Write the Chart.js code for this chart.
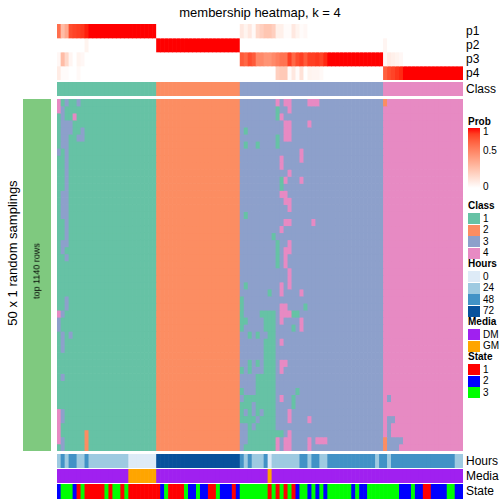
<!DOCTYPE html>
<html>
<head>
<meta charset="utf-8">
<script src="https://cdn.jsdelivr.net/npm/chart.js@4.4.1/dist/chart.umd.min.js"></script>
<style>
  body { margin: 0; background: #fff; font-family: "Liberation Sans", Arial, sans-serif; color: #000; }
  #page { position: relative; width: 504px; height: 504px; overflow: hidden; }
  canvas { position: absolute; }
  .lab { position: absolute; line-height: 1; white-space: nowrap; transform: translateY(-50%); }
  .ann { font-size: 12px; left: 466px; }
  .lgTitle { font-size: 10px; font-weight: bold; left: 468px; }
  .lgLab { font-size: 10px; left: 483px; }
  .swatch { position: absolute; left: 468px; width: 12px; height: 11px; }
  .rot { position: absolute; white-space: nowrap; line-height: 1; transform: translate(-50%, -50%) rotate(-90deg); }
</style>
</head>
<body>
<div id="page">
  <div class="lab" style="left:260px;top:12px;font-size:13px;transform:translate(-50%,-50%)">membership heatmap, k = 4</div>

  <canvas id="probMap" width="406" height="56" style="left:57px;top:24px"></canvas>
  <canvas id="classMap" width="406" height="14" style="left:57px;top:82px"></canvas>
  <canvas id="sideBar" width="28" height="352" style="left:23px;top:99px"></canvas>
  <canvas id="mainMap" width="406" height="352" style="left:57px;top:99px"></canvas>
  <canvas id="hoursMap" width="406" height="14" style="left:57px;top:454px"></canvas>
  <canvas id="mediaMap" width="406" height="14" style="left:57px;top:469px"></canvas>
  <canvas id="stateMap" width="406" height="15" style="left:57px;top:484px"></canvas>

  <div class="rot" style="left:12px;top:253px;font-size:13px">50 x 1 random samplings</div>
  <div class="rot" style="left:37px;top:271px;font-size:9px">top 1140 rows</div>

  <div class="lab ann" style="top:31px">p1</div>
  <div class="lab ann" style="top:45px">p2</div>
  <div class="lab ann" style="top:59px">p3</div>
  <div class="lab ann" style="top:73px">p4</div>
  <div class="lab ann" style="top:89px">Class</div>
  <div class="lab ann" style="top:461px">Hours</div>
  <div class="lab ann" style="top:476px">Media</div>
  <div class="lab ann" style="top:491px">State</div>

  <div class="lab lgTitle" style="top:122px">Prob</div>
  <div id="probBar" style="position:absolute;left:468px;top:128px;width:12px;height:60px"></div>
  <div class="lab lgLab" style="top:132px">1</div>
  <div class="lab lgLab" style="top:151px">0.5</div>
  <div class="lab lgLab" style="top:187px">0</div>
  <div id="legends"></div>
</div>

<script>
  // --- Data ---
  const sampleCount = 102;

  // consensus class per column, as [class, number of columns]
  const classRuns = [[1, 25], [2, 21], [3, 36], [4, 20]];

  // membership probabilities per column
  const p1 = [
    0.72, 0.35, 0.45, 0.85, 0.88, 0.9, 0.92, 0.97, 1, 1, 1, 1, 1, 1, 1, 1, 1, 1, 1, 1, 1, 1, 1, 1, 1,
    0, 0, 0, 0, 0, 0, 0, 0, 0, 0, 0, 0, 0, 0, 0, 0, 0, 0, 0, 0, 0,
    0.12, 0.06, 0.12, 0.03, 0.2, 0.25, 0.3, 0.3, 0.25, 0.08, 0.08, 0.02, 0.02, 0.12, 0.06, 0.02, 0.04, 0,
    0, 0, 0, 0, 0, 0, 0, 0, 0, 0, 0, 0, 0, 0, 0, 0, 0, 0,
    0, 0, 0, 0, 0, 0, 0, 0, 0, 0, 0, 0, 0, 0, 0, 0, 0, 0, 0, 0
  ];
  const p2 = [
    0, 0, 0, 0, 0, 0, 0, 0.06, 0, 0, 0, 0, 0, 0, 0, 0, 0, 0, 0, 0, 0, 0, 0, 0, 0,
    1, 1, 1, 1, 1, 1, 1, 1, 1, 1, 1, 1, 1, 1, 1, 1, 1, 1, 1, 1, 1,
    0, 0, 0, 0, 0, 0, 0, 0, 0, 0, 0, 0, 0, 0, 0, 0, 0, 0,
    0, 0, 0, 0, 0, 0, 0, 0, 0, 0, 0, 0, 0, 0, 0, 0, 0, 0,
    0.05, 0, 0, 0, 0, 0, 0, 0, 0, 0, 0, 0, 0, 0, 0, 0, 0, 0, 0, 0
  ];
  const p3 = [
    0.04, 0.35, 0.2, 0.05, 0, 0.06, 0.04, 0, 0, 0, 0, 0, 0, 0, 0, 0, 0, 0, 0, 0, 0, 0, 0, 0, 0,
    0, 0, 0, 0, 0, 0, 0, 0, 0, 0, 0, 0, 0, 0, 0, 0, 0, 0, 0, 0, 0,
    0.8, 0.75, 0.85, 0.8, 0.6, 0.6, 0.55, 0.55, 0.6, 0.65, 0.7, 0.7, 0.9, 0.75, 0.85, 0.9, 0.8, 0.9,
    0.9, 0.92, 0.88, 0.95, 1, 1, 1, 1, 1, 1, 1, 1, 1, 1, 1, 1, 1, 1,
    0.04, 0.1, 0.08, 0.06, 0.04, 0, 0, 0, 0, 0, 0, 0, 0, 0, 0, 0, 0, 0, 0, 0
  ];
  const p4 = [
    0.1, 0.02, 0.02, 0, 0, 0.03, 0, 0, 0, 0, 0, 0, 0, 0, 0, 0, 0, 0, 0, 0, 0, 0, 0, 0, 0,
    0, 0, 0, 0, 0, 0, 0, 0, 0, 0, 0, 0, 0, 0, 0, 0, 0, 0, 0, 0, 0,
    0, 0, 0, 0, 0, 0, 0, 0, 0, 0.25, 0.28, 0.28, 0.02, 0.12, 0.02, 0.15, 0, 0.06,
    0.05, 0.05, 0.03, 0, 0, 0, 0, 0, 0, 0, 0, 0, 0, 0, 0, 0, 0, 0,
    0.78, 0.85, 0.88, 0.92, 0.95, 1, 1, 1, 1, 1, 1, 1, 1, 1, 1, 1, 1, 1, 1, 1
  ];

  // 50 random samplings: cells that differ from the consensus class
  // [firstRow, lastRow, firstCol, lastCol, class]
  const samplingFlips = [
    [0, 1, 0, 0, 4], [0, 0, 2, 2, 3], [0, 0, 5, 5, 3], [1, 2, 1, 1, 3], [2, 2, 4, 4, 4],
    [3, 4, 1, 3, 3], [4, 5, 6, 6, 3], [5, 5, 5, 5, 3], [5, 6, 1, 2, 3], [7, 7, 0, 0, 3],
    [7, 12, 2, 2, 3], [13, 16, 1, 2, 3], [17, 19, 2, 2, 3], [20, 20, 1, 2, 3], [21, 21, 1, 1, 3],
    [22, 22, 2, 2, 3], [28, 29, 2, 2, 3], [30, 30, 0, 0, 4], [30, 30, 1, 1, 3], [31, 32, 0, 0, 3],
    [33, 35, 1, 1, 3], [33, 33, 3, 3, 3], [39, 39, 1, 1, 3], [44, 48, 0, 0, 4], [44, 45, 1, 1, 3],
    [48, 49, 1, 1, 3], [47, 49, 7, 7, 2],

    [0, 0, 55, 55, 4], [0, 0, 57, 58, 4], [0, 0, 63, 65, 4], [1, 2, 55, 55, 1], [1, 1, 58, 58, 4],
    [2, 2, 56, 56, 4], [3, 5, 57, 58, 4], [3, 3, 63, 63, 4], [4, 4, 47, 47, 1], [5, 6, 55, 55, 1],
    [6, 6, 47, 47, 1], [6, 6, 50, 50, 1], [7, 8, 61, 61, 4], [8, 9, 56, 56, 4], [10, 10, 58, 58, 4],
    [11, 12, 56, 56, 1], [11, 11, 57, 57, 4], [11, 11, 61, 61, 4], [13, 13, 56, 57, 4], [14, 14, 57, 58, 4],
    [15, 15, 58, 58, 4], [16, 16, 47, 47, 1], [17, 17, 57, 58, 4], [17, 17, 64, 64, 4], [18, 18, 56, 56, 4],
    [19, 19, 54, 54, 1], [20, 23, 55, 55, 1], [20, 20, 58, 58, 4], [21, 21, 57, 58, 4], [22, 23, 57, 57, 4],
    [24, 26, 58, 58, 4], [26, 26, 47, 47, 1], [26, 27, 56, 56, 4], [27, 27, 53, 53, 1], [27, 27, 61, 61, 4],
    [28, 32, 46, 46, 1], [29, 30, 56, 57, 4], [30, 30, 58, 58, 4], [29, 29, 62, 62, 1], [30, 30, 51, 54, 1],
    [30, 30, 59, 60, 1], [31, 31, 47, 47, 1], [31, 32, 52, 54, 1], [31, 31, 56, 56, 4], [31, 32, 61, 61, 4],
    [32, 32, 59, 59, 1], [33, 33, 48, 48, 1], [33, 33, 50, 50, 1], [33, 33, 53, 54, 1], [34, 49, 52, 54, 1],
    [34, 34, 56, 56, 4], [37, 38, 48, 48, 1], [37, 37, 50, 50, 1], [37, 37, 56, 57, 4], [38, 38, 56, 56, 4],
    [38, 38, 46, 46, 1], [39, 49, 50, 51, 1], [41, 41, 46, 46, 1], [41, 41, 60, 60, 1], [42, 42, 47, 49, 1],
    [42, 42, 56, 56, 4], [42, 43, 59, 59, 1], [43, 43, 46, 48, 1], [44, 44, 46, 46, 1], [44, 44, 48, 48, 1],
    [44, 45, 58, 58, 4], [45, 45, 63, 63, 4], [45, 45, 46, 49, 1], [46, 46, 48, 48, 1], [47, 47, 48, 56, 1],
    [47, 47, 58, 58, 4], [48, 48, 48, 49, 1], [48, 49, 55, 55, 4], [48, 49, 57, 58, 4], [48, 49, 63, 63, 4],
    [48, 48, 65, 67, 4], [49, 49, 47, 49, 1], [44, 44, 51, 51, 3], [45, 45, 50, 50, 3],

    [0, 0, 82, 82, 2], [42, 42, 83, 83, 3], [45, 45, 83, 84, 3], [46, 47, 83, 83, 3], [48, 49, 82, 82, 2],
    [48, 48, 83, 86, 3], [49, 49, 83, 85, 3]
  ];
  const samplingCount = 50;

  // annotations, as [value, number of columns]
  const hoursRuns = [
    [24, 1], [48, 1], [24, 1], [48, 2], [24, 2], [48, 1], [24, 10], [0, 7], [72, 21], [48, 1],
    [24, 1], [48, 1], [24, 3], [48, 1], [0, 1], [24, 7], [48, 2], [24, 1], [48, 2], [24, 2],
    [48, 12], [24, 1], [48, 2], [24, 1], [48, 16], [24, 2]
  ];
  const mediaRuns = [['DM', 18], ['GM', 7], ['DM', 28], ['GM', 1], ['DM', 48]];
  const stateRuns = [
    [2, 1], [3, 3], [2, 1], [1, 1], [3, 1], [1, 5], [3, 1], [1, 1], [3, 2], [1, 1], [3, 1],
    [1, 8], [2, 1], [3, 1], [1, 4], [3, 1], [2, 2], [3, 1], [2, 2], [1, 2], [3, 1], [2, 3],
    [1, 1], [2, 1], [3, 7], [1, 1], [3, 1], [1, 1], [3, 1], [1, 1], [3, 1], [1, 1], [2, 1],
    [3, 2], [2, 1], [3, 1], [2, 1], [3, 1], [2, 1], [3, 6], [2, 1], [3, 1], [2, 2], [3, 8],
    [2, 3], [3, 1], [2, 2], [1, 2], [2, 4], [3, 2], [2, 2]
  ];

  // legend entries
  const classLevels = ['1', '2', '3', '4'];
  const hoursLevels = ['0', '24', '48', '72'];
  const mediaLevels = ['DM', 'GM'];
  const stateLevels = ['1', '2', '3'];

  // --- Colours ---
  const classColours = { 1: '#66C2A5', 2: '#FC8D62', 3: '#8DA0CB', 4: '#E78AC3' };
  const hoursColours = { 0: '#DEEBF7', 24: '#9ECAE1', 48: '#4292C6', 72: '#08519C' };
  const mediaColours = { DM: '#A020F0', GM: '#FFA500' };
  const stateColours = { 1: '#FF0000', 2: '#0000FF', 3: '#00FF00' };

  // white -> red, interpolated in LAB like colorRamp2
  function probColour(v) {
    const L = 100 - 46.76 * v, A = 80.09 * v, B = 67.2 * v;
    let y = (L + 16) / 116, x = A / 500 + y, z = y - B / 200;
    const f = function (t) { return t * t * t > 0.008856 ? t * t * t : (t - 16 / 116) / 7.787; };
    x = 0.95047 * f(x); y = f(y); z = 1.08883 * f(z);
    const lin = [
      x * 3.2406 - y * 1.5372 - z * 0.4986,
      -x * 0.9689 + y * 1.8758 + z * 0.0415,
      x * 0.0557 - y * 0.2040 + z * 1.0570
    ];
    const rgb = lin.map(function (c) {
      c = c > 0.0031308 ? 1.055 * Math.pow(c, 1 / 2.4) - 0.055 : 12.92 * c;
      return Math.round(Math.max(0, Math.min(1, c)) * 255);
    });
    return 'rgb(' + rgb.join(',') + ')';
  }

  // --- Build tables ---
  function expand(runs) {
    const out = [];
    runs.forEach(function (r) { for (let i = 0; i < r[1]; i++) out.push(r[0]); });
    return out;
  }

  const sampleIds = [];
  for (let i = 0; i < sampleCount; i++) sampleIds.push('S' + (i + 1));

  const consensus = expand(classRuns);
  const samplingRows = [];
  for (let r = 0; r < samplingCount; r++) samplingRows.push(consensus.slice());
  samplingFlips.forEach(function (f) {
    for (let r = f[0]; r <= f[1]; r++) {
      for (let c = f[2]; c <= f[3]; c++) samplingRows[r][c] = f[4];
    }
  });

  // --- Heatmap as stacked bars: one dataset per row, one unit-high bar per cell ---
  function heatmap(id, labels, rows, colour) {
    new Chart(document.getElementById(id), {
      type: 'bar',
      data: {
        labels: labels,
        datasets: rows.map(function (row) {
          return {
            data: row.map(function () { return 1; }),
            backgroundColor: row.map(colour),
            borderWidth: 0,
            barPercentage: 1,
            categoryPercentage: 1
          };
        })
      },
      options: {
        responsive: false,
        animation: false,
        events: [],
        layout: { padding: 0 },
        plugins: { legend: { display: false }, tooltip: { enabled: false } },
        scales: {
          x: { display: false, stacked: true },
          y: { display: false, stacked: true, reverse: true, min: 0, max: rows.length }
        }
      }
    });
  }

  heatmap('probMap', sampleIds, [p1, p2, p3, p4], probColour);
  heatmap('classMap', sampleIds, [consensus], function (c) { return classColours[c]; });
  heatmap('mainMap', sampleIds, samplingRows, function (c) { return classColours[c]; });
  heatmap('sideBar', ['top 1140 rows'], [['top']], function () { return '#7FC97F'; });
  heatmap('hoursMap', sampleIds, [expand(hoursRuns)], function (h) { return hoursColours[h]; });
  heatmap('mediaMap', sampleIds, [expand(mediaRuns)], function (m) { return mediaColours[m]; });
  heatmap('stateMap', sampleIds, [expand(stateRuns)], function (s) { return stateColours[s]; });

  // --- Legends ---
  const stops = [];
  for (let i = 0; i <= 10; i++) stops.push(probColour(1 - i / 10) + ' ' + (i * 10) + '%');
  document.getElementById('probBar').style.background = 'linear-gradient(to bottom, ' + stops.join(', ') + ')';

  function legendGroup(title, top, levels, colours) {
    const box = document.getElementById('legends');
    let html = '<div class="lab lgTitle" style="top:' + top + 'px">' + title + '</div>';
    levels.forEach(function (lv, i) {
      const y = top + 7 + i * 11.6;
      html += '<div class="swatch" style="top:' + y + 'px;background:' + colours[lv] + '"></div>';
      html += '<div class="lab lgLab" style="top:' + (y + 5.5) + 'px">' + lv + '</div>';
    });
    box.insertAdjacentHTML('beforeend', html);
  }

  legendGroup('Class', 206, classLevels, classColours);
  legendGroup('Hours', 264, hoursLevels, hoursColours);
  legendGroup('Media', 322, mediaLevels, mediaColours);
  legendGroup('State', 357, stateLevels, stateColours);
</script>
</body>
</html>
